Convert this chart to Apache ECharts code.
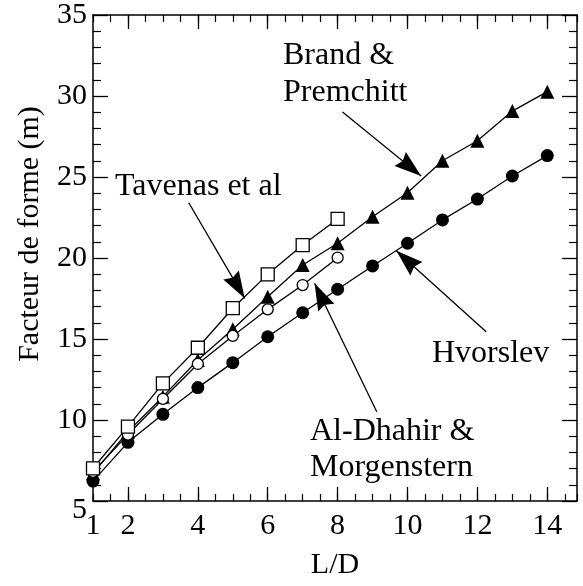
<!DOCTYPE html>
<html><head><meta charset="utf-8">
<script src="https://cdn.jsdelivr.net/npm/echarts@6/dist/echarts.min.js"></script>
<style>html,body{margin:0;padding:0;background:#fff}#c{width:583px;height:586px}</style>
</head><body><div id="c"></div>
<script>
const ld = [1,2,3,4,5,6,7,8,9,10,11,12,13,14];
const hvorslev = [6.23,8.62,10.35,12.0,13.54,15.14,16.62,18.07,19.51,20.91,22.35,23.64,25.06,26.32];
const brand = [6.71,9.28,11.44,13.7,15.6,17.61,19.57,20.91,22.55,24.03,26.0,27.24,29.07,30.27];
const alDhahir = [6.8,9.1,11.3,13.46,15.19,16.83,18.33,20.02];
const tavenas = [7.02,9.59,12.26,14.46,16.9,18.99,20.8,22.41];
const xTickLabels = [1,2,4,6,8,10,12,14];
const xMajorTicks = [2,4,6,8,10,12,14];
const yTicks = [5,10,15,20,25,30,35];
// arrows [fromX, fromY, toX, toY] in data units
const arrowBrand = [8.14,29.01,10.39,25.06];
const arrowTavenas = [3.74,23.41,5.34,17.51];
const arrowHvorslev = [12.25,15.45,9.68,20.45];
const arrowAlDhahir = [9.12,10.51,7.34,18.44];

const FONT = '"Liberation Serif", "Times New Roman", serif';
const pair = (xs, ys) => ys.map((v,i)=>[xs[i], v]);
const arrow = a => [{coord:[a[0],a[1]]},{coord:[a[2],a[3]]}];
// arrowhead whose tip sits at the symbol centre (tiny dummy point extends the box)
const HEAD = 'path://M0,0 L0.01,0 L0,0.01 Z M0,26 L9,52 L0,49 L-9,52 Z';

const chart = echarts.init(document.getElementById('c'), null, {renderer:'canvas'});
const axisLine = {show:true, lineStyle:{color:'#000', width:1.5}};
const xBase = {type:'value', min:1, max:14.85, splitLine:{show:false}};
const option = {
  animation:false,
  backgroundColor:'#fff',
  grid:{left:93, top:15, right:6, bottom:85, containLabel:false},
  xAxis:[
    Object.assign({}, xBase, {position:'bottom', interval:1, axisLine,
      axisTick:{show:true, inside:true, length:14, customValues:xMajorTicks, lineStyle:{color:'#000', width:1.3}},
      axisLabel:{show:true, customValues:xTickLabels, color:'#000', fontSize:30, fontFamily:FONT, margin:10},
      name:'L/D', nameLocation:'middle', nameGap:49, nameTextStyle:{color:'#000', fontSize:30, fontFamily:FONT}}),
    Object.assign({}, xBase, {position:'bottom', interval:0.5, axisLine:{show:false},
      axisTick:{show:true, inside:true, length:7, lineStyle:{color:'#000', width:1.2}}, axisLabel:{show:false}}),
    Object.assign({}, xBase, {position:'top', interval:1, axisLine,
      axisTick:{show:true, inside:true, length:14, customValues:xMajorTicks, lineStyle:{color:'#000', width:1.3}}, axisLabel:{show:false}}),
    Object.assign({}, xBase, {position:'top', interval:0.5, axisLine:{show:false},
      axisTick:{show:true, inside:true, length:7, lineStyle:{color:'#000', width:1.2}}, axisLabel:{show:false}})
  ],
  yAxis:[
    {type:'value', min:5, max:35, interval:5, position:'left', axisLine, splitLine:{show:false},
      axisTick:{show:true, inside:true, length:15, lineStyle:{color:'#000', width:1.3}},
      minorTick:{show:true, splitNumber:5, length:8, lineStyle:{color:'#000', width:1.2}},
      axisLabel:{color:'#000', fontSize:30, fontFamily:FONT, margin:6,
        formatter: v => v === 5 ? '{low|5}' : String(v),
        rich:{low:{fontSize:30, fontFamily:FONT, color:'#000', padding:[18,0,0,0]}}},
      name:'Facteur de forme (m)', nameLocation:'middle', nameGap:48, nameRotate:90,
      nameTextStyle:{color:'#000', fontSize:30, fontFamily:FONT, padding:[0,0,0,48]}},
    {type:'value', min:5, max:35, interval:5, position:'right', axisLine, splitLine:{show:false},
      axisTick:{show:true, inside:true, length:15, lineStyle:{color:'#000', width:1.3}},
      minorTick:{show:true, splitNumber:5, length:8, lineStyle:{color:'#000', width:1.2}},
      axisLabel:{show:false}}
  ],
  graphic:[
    {type:'text', left:283, top:40, style:{text:'Brand &', font:'32px '+FONT, fill:'#000'}},
    {type:'text', left:283, top:77, style:{text:'Premchitt', font:'32px '+FONT, fill:'#000'}},
    {type:'text', left:115, top:171, style:{text:'Tavenas et al', font:'32px '+FONT, fill:'#000'}},
    {type:'text', left:432, top:338, style:{text:'Hvorslev', font:'32px '+FONT, fill:'#000'}},
    {type:'text', left:310, top:416, style:{text:'Al-Dhahir &', font:'32px '+FONT, fill:'#000'}},
    {type:'text', left:310, top:452, style:{text:'Morgenstern', font:'32px '+FONT, fill:'#000'}}
  ],
  series:[
    {name:'Hvorslev', type:'line', data:pair(ld,hvorslev), symbol:'circle', symbolSize:13,
      itemStyle:{color:'#000'}, lineStyle:{color:'#000', width:1.3}, silent:true, z:3,
      markLine:{silent:true, label:{show:false}, lineStyle:{color:'#000', width:1.3, type:'solid'},
        symbol:['none', HEAD], symbolSize:[18, 54],
        data:[arrow(arrowBrand), arrow(arrowTavenas), arrow(arrowHvorslev), arrow(arrowAlDhahir)]}},
    {name:'Brand & Premchitt', type:'line', data:pair(ld,brand), symbol:'triangle', symbolSize:14,
      itemStyle:{color:'#000'}, lineStyle:{color:'#000', width:1.3}, silent:true, z:3},
    {name:'Al-Dhahir & Morgenstern', type:'line', data:pair(ld,alDhahir), symbol:'circle', symbolSize:11,
      itemStyle:{color:'#fff', borderColor:'#000', borderWidth:1.3}, lineStyle:{color:'#000', width:1.3}, silent:true, z:4},
    {name:'Tavenas et al', type:'line', data:pair(ld,tavenas), symbol:'rect', symbolSize:13,
      itemStyle:{color:'#fff', borderColor:'#000', borderWidth:1.3}, lineStyle:{color:'#000', width:1.3}, silent:true, z:4}
  ]
};
chart.setOption(option);
</script></body></html>
